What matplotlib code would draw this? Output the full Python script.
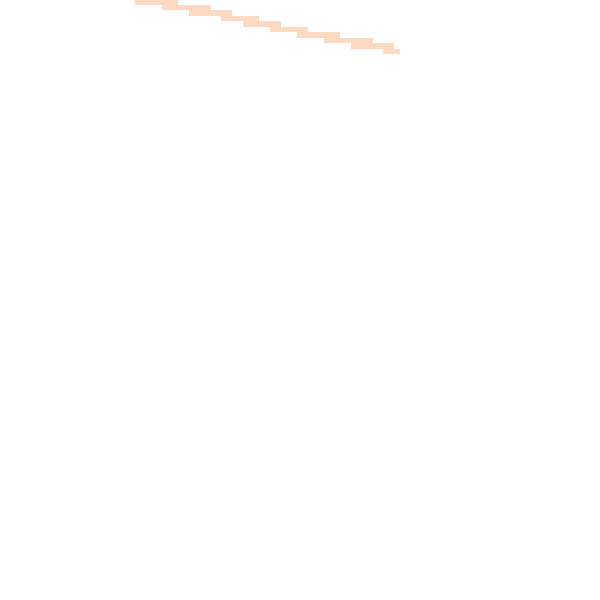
import matplotlib
matplotlib.use("Agg")
import matplotlib.pyplot as plt

# task rows (top to bottom), start and length in hours
tasks = ["T1", "T2", "T3", "T4", "T5", "T6", "T7", "T8", "T9", "T10"]
starts = [0.0, 1.0, 2.0, 3.2, 4.0, 5.0, 6.0, 7.0, 8.0, 9.2]
durations = [1.6, 1.8, 1.6, 1.4, 1.4, 1.4, 1.6, 1.8, 1.6, 0.6]

bar_color = "#FFDAC2"

fig = plt.figure(figsize=(6, 6), dpi=100)
ax = fig.add_axes([0, 0, 1, 1])

rows = list(range(len(tasks)))
ax.barh(rows, durations, left=starts, height=1.0, color=bar_color,
        edgecolor="none")

ax.set_xlim(-5.0, 17.22)
ax.set_ylim(108.73, -0.3545)
ax.axis("off")

fig.savefig("out.png", dpi=100, facecolor="white")
